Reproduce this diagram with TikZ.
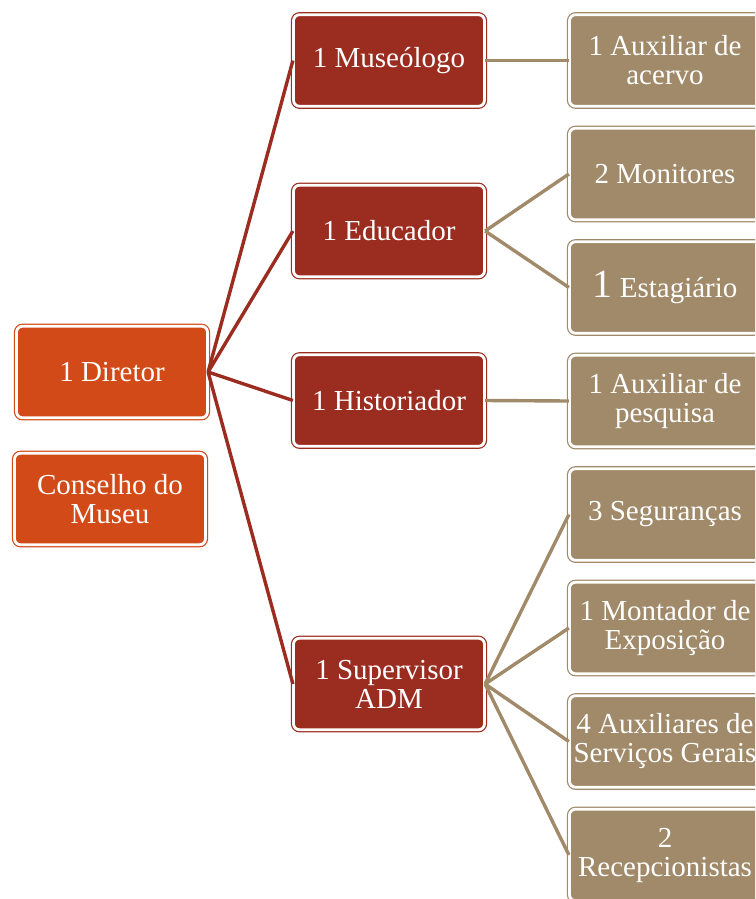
\documentclass[tikz,border=0pt]{standalone}
\usepackage{fontspec}
\setmainfont{Liberation Serif}
\definecolor{topcolor}{HTML}{D24A18}
\definecolor{midcolor}{HTML}{9B2C20}
\definecolor{leafcolor}{HTML}{A08A69}
\tikzset{
  org box/.style={rounded corners=6pt,text=white,align=center,inner sep=1pt,
    minimum width=191pt,minimum height=91.5pt,line width=1.2pt,
    double=white,double distance=2.8pt,font=\fontsize{29}{29}\selectfont},
  org top/.style={org box,draw=topcolor,fill=topcolor},
  org mid/.style={org box,draw=midcolor,fill=midcolor},
  org leaf/.style={org box,draw=leafcolor,fill=leafcolor},
  org link/.style={line width=3.4pt}
}

\begin{document}
\begin{tikzpicture}[x=1pt,y=-1pt]
  \useasboundingbox (0,0) rectangle (755,899);
  \clip (0,0) rectangle (755,899);
  % left column
  \node[org top] (dir) at (112,372) {1 Diretor};
  \node[org top] (cons) at (110,499) {Conselho do\\Museu};
  % middle column
  \node[org mid] (mus) at (389,60.5) {1 Museólogo};
  \node[org mid] (edu) at (389,231) {1 Educador};
  \node[org mid] (his) at (389,400.5) {1 Historiador};
  \node[org mid] (sup) at (389,684) {1 Supervisor\\ADM};
  % right column
  \node[org leaf] (acervo) at (665,60.5) {1 Auxiliar de\\acervo};
  \node[org leaf] (monit) at (665,174) {2 Monitores};
  \node[org leaf] (estag) at (665,287.5) {{\fontsize{40}{40}\selectfont 1} Estagiário};
  \node[org leaf] (pesq) at (665,401) {1 Auxiliar de\\pesquisa};
  \node[org leaf] (segur) at (665,514.5) {3 Seguranças};
  \node[org leaf] (montad) at (665,628) {1 Montador de\\Exposição};
  \node[org leaf] (servg) at (665,741.5) {4 Auxiliares de\\Serviços Gerais};
  \node[org leaf] (recep) at (665,855) {2\\Recepcionistas};
  % links
  \foreach \n in {mus,edu,his,sup}{\draw[org link,midcolor] (dir.east) -- (\n.west);}
  \foreach \p/\c in {mus/acervo,edu/monit,edu/estag,his/pesq,sup/segur,sup/montad,sup/servg,sup/recep}{
    \draw[org link,leafcolor] (\p.east) -- (\c.west);
  }
\end{tikzpicture}
\end{document}
